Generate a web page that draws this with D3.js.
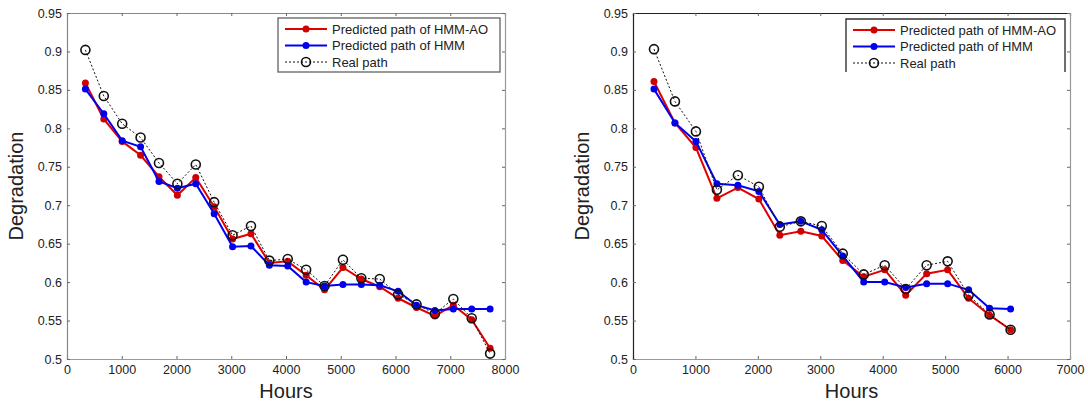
<!DOCTYPE html>
<html lang="en">
<head>
<meta charset="UTF-8">
<title>Degradation paths</title>
<script src="https://d3js.org/d3.v7.min.js"></script>
<style>
  body { margin: 0; background: #fff; }
  svg text { font-family: "Liberation Sans", Arial, sans-serif; fill: #222; }
</style>
</head>
<body>
<div id="chart"></div>
<script>
// tick labels
var yTicks = [0.5, 0.55, 0.6, 0.65, 0.7, 0.75, 0.8, 0.85, 0.9, 0.95];
var xTicksLeft = [0, 1000, 2000, 3000, 4000, 5000, 6000, 7000, 8000];
var xTicksRight = [0, 1000, 2000, 3000, 4000, 5000, 6000, 7000];
var seriesNames = ["Predicted path of HMM-AO", "Predicted path of HMM", "Real path"];

// left panel
var hoursLeft = [336, 672, 1008, 1344, 1680, 2016, 2352, 2688, 3024, 3360, 3696, 4032,
  4368, 4704, 5040, 5376, 5712, 6048, 6384, 6720, 7056, 7392, 7728];
var hmmaoLeft = [0.859, 0.812, 0.783, 0.765, 0.737, 0.713, 0.736, 0.698, 0.656, 0.663, 0.625, 0.627,
  0.609, 0.590, 0.619, 0.604, 0.594, 0.579, 0.567, 0.556, 0.570, 0.551, 0.514];
var hmmLeft = [0.851, 0.819, 0.784, 0.776, 0.731, 0.722, 0.728, 0.689, 0.646, 0.647, 0.622, 0.621,
  0.600, 0.595, 0.597, 0.597, 0.596, 0.588, 0.570, 0.563, 0.565, 0.565, 0.565];
var realLeft = [0.902, 0.842, 0.806, 0.788, 0.755, 0.728, 0.753, 0.704, 0.661, 0.673, 0.628, 0.630,
  0.616, 0.595, 0.629, 0.605, 0.604, 0.584, 0.571, 0.559, 0.578, 0.553, 0.507];

// right panel
var hoursRight = [336, 672, 1008, 1344, 1680, 2016, 2352, 2688, 3024, 3360, 3696, 4032,
  4368, 4704, 5040, 5376, 5712, 6048];
var hmmaoRight = [0.861, 0.807, 0.775, 0.709, 0.723, 0.708, 0.661, 0.666, 0.660, 0.628, 0.607, 0.616,
  0.583, 0.611, 0.616, 0.579, 0.557, 0.538];
var hmmRight = [0.851, 0.807, 0.783, 0.728, 0.726, 0.718, 0.675, 0.679, 0.668, 0.634, 0.600, 0.600,
  0.593, 0.598, 0.598, 0.590, 0.566, 0.565];
var realRight = [0.903, 0.835, 0.796, 0.720, 0.739, 0.724, 0.672, 0.679, 0.673, 0.637, 0.610, 0.622,
  0.591, 0.622, 0.627, 0.583, 0.558, 0.538];

var svg = d3.select("#chart").append("svg")
  .attr("width", 1088).attr("height", 405);

function drawPanel(p) {
  var x = d3.scaleLinear().domain([0, p.xMax]).range([p.left, p.right]);
  var y = d3.scaleLinear().domain([0.5, 0.95]).range([359, 13]);
  var g = svg.append("g");

  // axes, ticks pointing inward like matlab
  g.append("g").attr("transform", "translate(0,359)")
    .call(d3.axisBottom(x).tickValues(p.xTicks).tickSize(-3).tickPadding(7).tickFormat(d3.format("d")))
    .call(function (a) {
      a.select(".domain").attr("stroke", p.lightAxis);
      a.selectAll(".tick line").attr("stroke", "#666");
      a.selectAll("text").attr("font-size", 12.5).attr("dy", "0.6em");
    });
  g.append("g").attr("transform", "translate(0,13)")
    .call(d3.axisTop(x).tickValues(p.xTicks).tickSize(-3).tickFormat(""))
    .call(function (a) {
      a.select(".domain").attr("stroke", p.darkAxis);
      a.selectAll(".tick line").attr("stroke", "#666");
    });
  g.append("g").attr("transform", "translate(" + p.left + ",0)")
    .call(d3.axisLeft(y).tickValues(yTicks).tickSize(-3).tickPadding(5).tickFormat(d3.format("")))
    .call(function (a) {
      a.select(".domain").attr("stroke", p.darkAxis);
      a.selectAll(".tick line").attr("stroke", "#666");
      a.selectAll("text").attr("font-size", 12.5);
    });
  g.append("g").attr("transform", "translate(" + p.right + ",0)")
    .call(d3.axisRight(y).tickValues(yTicks).tickSize(-3).tickFormat(""))
    .call(function (a) {
      a.select(".domain").attr("stroke", p.lightAxis);
      a.selectAll(".tick line").attr("stroke", "#666");
    });
  g.selectAll(".domain").attr("stroke-width", 1.2);

  // axis titles
  g.append("text").attr("x", (p.left + p.right) / 2).attr("y", 398)
    .attr("text-anchor", "middle").attr("font-size", 20).text("Hours");
  g.append("text")
    .attr("transform", "translate(" + (p.left - 44) + ",186) rotate(-90)")
    .attr("text-anchor", "middle").attr("font-size", 20).text("Degradation");

  var line = d3.line().x(function (d) { return x(d[0]); }).y(function (d) { return y(d[1]); });
  var red = p.hours.map(function (h, i) { return [h, p.hmmao[i]]; });
  var blue = p.hours.map(function (h, i) { return [h, p.hmm[i]]; });
  var real = p.hours.map(function (h, i) { return [h, p.real[i]]; });

  g.append("path").datum(red).attr("d", line).attr("fill", "none")
    .attr("stroke", "#e00000").attr("stroke-width", 2);
  g.selectAll(".red").data(red).enter().append("circle")
    .attr("cx", function (d) { return x(d[0]); }).attr("cy", function (d) { return y(d[1]); })
    .attr("r", 3.5).attr("fill", "#d00000");

  g.append("path").datum(blue).attr("d", line).attr("fill", "none")
    .attr("stroke", "#0000ee").attr("stroke-width", 2);
  g.selectAll(".blue").data(blue).enter().append("circle")
    .attr("cx", function (d) { return x(d[0]); }).attr("cy", function (d) { return y(d[1]); })
    .attr("r", 3.5).attr("fill", "#0000ee");

  g.append("path").datum(real).attr("d", line).attr("fill", "none")
    .attr("stroke", "#111").attr("stroke-width", 1).attr("stroke-dasharray", "2,2");
  g.selectAll(".real").data(real).enter().append("circle")
    .attr("cx", function (d) { return x(d[0]); }).attr("cy", function (d) { return y(d[1]); })
    .attr("r", 4.5).attr("fill", "none").attr("stroke", "#111").attr("stroke-width", 1.6);

  // legend box
  var lg = g.append("g");
  var L = p.legend;
  if (p.legendBottom) {
    lg.append("rect").attr("x", L.x0).attr("y", L.y0).attr("width", L.x1 - L.x0).attr("height", L.y1 - L.y0)
      .attr("fill", "#fff").attr("stroke", "#555").attr("stroke-width", 1.2);
  } else {
    lg.append("rect").attr("x", L.x0).attr("y", L.y0).attr("width", L.x1 - L.x0).attr("height", L.y1 - L.y0)
      .attr("fill", "#fff");
    lg.append("path").attr("d", "M" + L.x0 + "," + L.y1 + "V" + L.y0 + "H" + L.x1 + "V" + L.y1)
      .attr("fill", "none").attr("stroke", "#333").attr("stroke-width", 1.4);
  }
  var styles = [
    { stroke: "#e00000", w: 2, dash: null, fill: "#d00000", r: 3.5 },
    { stroke: "#0000ee", w: 2, dash: null, fill: "#0000ee", r: 3.5 },
    { stroke: "#111", w: 1, dash: "2,2", fill: "none", r: 4.5 }
  ];
  seriesNames.forEach(function (name, i) {
    var yy = L.y0 + 11 + i * 16.5;
    var s = styles[i];
    lg.append("line").attr("x1", L.x0 + 7).attr("x2", L.x0 + 49).attr("y1", yy).attr("y2", yy)
      .attr("stroke", s.stroke).attr("stroke-width", s.w).attr("stroke-dasharray", s.dash);
    lg.append("circle").attr("cx", L.x0 + 28).attr("cy", yy).attr("r", s.r)
      .attr("fill", s.fill).attr("stroke", s.fill === "none" ? "#111" : null).attr("stroke-width", 1.6);
    lg.append("text").attr("x", L.x0 + 54).attr("y", yy).attr("dy", "0.35em")
      .attr("font-size", 13).text(name);
  });
}

drawPanel({
  left: 67, right: 505, xMax: 8000, xTicks: xTicksLeft,
  hours: hoursLeft, hmmao: hmmaoLeft, hmm: hmmLeft, real: realLeft,
  darkAxis: "#888", lightAxis: "#999",
  legend: { x0: 278, x1: 500, y0: 18, y1: 72 }, legendBottom: true
});
drawPanel({
  left: 633, right: 1070, xMax: 7000, xTicks: xTicksRight,
  hours: hoursRight, hmmao: hmmaoRight, hmm: hmmRight, real: realRight,
  darkAxis: "#222", lightAxis: "#999",
  legend: { x0: 846, x1: 1065, y0: 19, y1: 72 }, legendBottom: false
});
</script>
</body>
</html>
